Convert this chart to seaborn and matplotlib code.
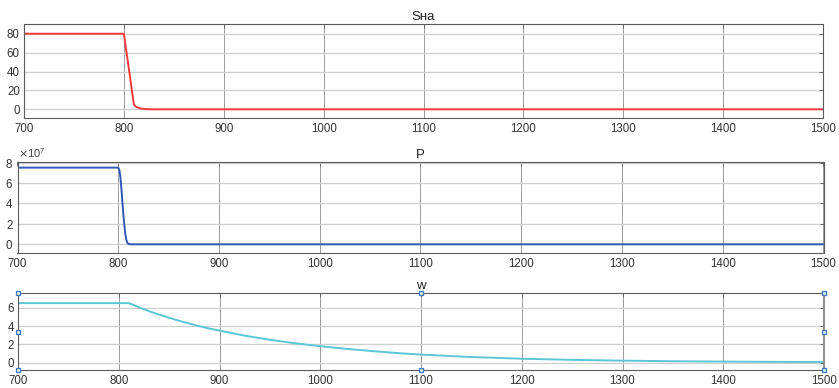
import numpy as np
import pandas as pd
import matplotlib
matplotlib.use("Agg")
import matplotlib.pyplot as plt
import seaborn as sns

# ---- data ----
sha_t = [700, 800, 805, 810, 812, 815, 818, 822, 826, 830, 900, 1000, 1100, 1200, 1300, 1400, 1500]
sha_v = [80, 80, 43, 5.0, 2.8, 1.4, 0.7, 0.25, 0.05, 0.0, 0, 0, 0, 0, 0, 0, 0]

p_t = [700, 800, 801, 802, 803, 804, 805, 806, 807, 808, 809, 810, 812, 900, 1000, 1100, 1200, 1300, 1400, 1500]
p_v = [7.5e7, 7.5e7, 7.3e7, 6.7e7, 5.6e7, 4.3e7, 3.0e7, 1.9e7, 1.0e7, 0.45e7, 0.15e7,
       0.04e7, 0.0, 0, 0, 0, 0, 0, 0, 0]

w_t = [700, 810, 820, 830, 840, 850, 860, 870, 880, 890, 900, 925, 950, 975, 1000,
       1025, 1050, 1075, 1100, 1150, 1200, 1250, 1300, 1350, 1400, 1450, 1500]
w_v = [6.5, 6.5, 6.05, 5.62, 5.25, 4.9, 4.57, 4.27, 3.98, 3.72, 3.5, 2.95, 2.5, 2.12, 1.8,
       1.52, 1.28, 1.06, 0.88, 0.62, 0.43, 0.31, 0.22, 0.16, 0.12, 0.09, 0.07]

titles = ["S\u043d\u0430", "P", "w"]
x_ticks = list(range(700, 1501, 100))
y_ticks = [[0, 20, 40, 60, 80], [0, 2e7, 4e7, 6e7, 8e7], [0, 2, 4, 6]]

sns.set_theme(style="white")
plt.rcParams["font.family"] = ["Liberation Sans", "DejaVu Sans"]

fig = plt.figure(figsize=(8.39, 3.88), dpi=100)
W, H = 839, 388

def frame(left, right, top, bottom):
    return [left / W, 1 - bottom / H, (right - left) / W, (bottom - top) / H]

ax1 = fig.add_axes(frame(24, 823, 24, 118))
ax2 = fig.add_axes(frame(17.5, 823.5, 162, 253.3))
ax3 = fig.add_axes(frame(18, 824, 293.3, 370.3))

frames = [
    pd.DataFrame({"t": sha_t, "v": sha_v}),
    pd.DataFrame({"t": p_t, "v": p_v}),
    pd.DataFrame({"t": w_t, "v": w_v}),
]
colors = ["#f23a3a", "#2f58b8", "#5cc6d6"]
ylims = [(-9.2, 90.3), (-0.88e7, 8.05e7), (-0.83, 7.57)]

for ax, df, c, yl, yt, ttl in zip([ax1, ax2, ax3], frames, colors, ylims, y_ticks, titles):
    sns.lineplot(data=df, x="t", y="v", ax=ax, color=c, linewidth=1.4)
    ax.set_xlim(700, 1500)
    ax.set_ylim(*yl)
    ax.set_xticks(x_ticks)
    ax.set_yticks(yt)
    ax.set_xlabel("")
    ax.set_ylabel("")
    ax.set_title(ttl, fontsize=9.5, color="#222222", pad=3)
    ax.xaxis.grid(True, color="#7a7a7a", linewidth=0.7, alpha=0.75)
    ax.yaxis.grid(True, color="#cfcfcf", linewidth=0.9)
    ax.set_axisbelow(True)
    for s in ax.spines.values():
        s.set_color("#5a5a5a")
        s.set_linewidth(0.8)
    ax.tick_params(axis="both", direction="in", length=3, width=0.6, color="#5a5a5a",
                   labelsize=8.3, labelcolor="#333333", top=True, right=True,
                   labeltop=False, labelright=False)
    ax.tick_params(axis="x", pad=3.5)
    ax.tick_params(axis="y", pad=3)

ax2.ticklabel_format(axis="y", style="sci", scilimits=(7, 7), useMathText=True)
ax2.yaxis.get_offset_text().set_fontsize(8)
ax2.yaxis.get_offset_text().set_color("#444444")

# selection handles around the bottom panel
ax3.spines["right"].set_color("#8c8c8c")
ax3.spines["right"].set_linewidth(1.4)
handle_x = [0, 0, 0, 0.5, 0.5, 1, 1, 1]
handle_y = [0, 0.5, 1, 0, 1, 0, 0.5, 1]
ax3.plot(handle_x, handle_y, linestyle="none", marker="s", markersize=3.2,
         markerfacecolor="#dbe9f7", markeredgecolor="#3b7cc4", markeredgewidth=0.9,
         transform=ax3.transAxes, clip_on=False, zorder=10)

fig.savefig("out.png", dpi=100)
